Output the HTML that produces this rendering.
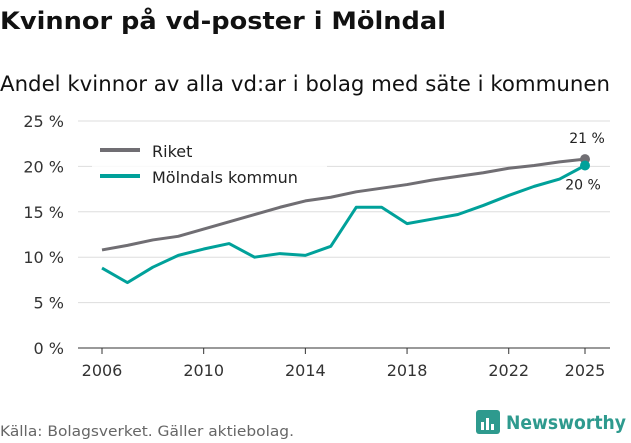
<!DOCTYPE html>
<html><head><meta charset="utf-8"><style>
body{margin:0;background:#fff;font-family:"DejaVu Sans","Liberation Sans",sans-serif;}
svg text{font-family:"DejaVu Sans","Liberation Sans",sans-serif;}
</style></head><body>
<svg width="631" height="439" viewBox="0 0 631 439" xmlns="http://www.w3.org/2000/svg">
<text x="0" y="29" font-size="24" font-weight="bold" fill="#111" textLength="446" lengthAdjust="spacingAndGlyphs">Kvinnor på vd-poster i Mölndal</text>
<text x="0" y="91" font-size="21" fill="#111" textLength="610" lengthAdjust="spacingAndGlyphs">Andel kvinnor av alla vd:ar i bolag med säte i kommunen</text>
<g id="grid"></g><g id="axes"></g><g id="series"></g>
<g>
<rect x="92" y="136" width="235" height="56" fill="#fff" opacity="0.85"/>
<line x1="100" y1="150" x2="140" y2="150" stroke="#706e73" stroke-width="4"/>
<text x="152" y="157" font-size="16" fill="#222">Riket</text>
<line x1="100" y1="176" x2="140" y2="176" stroke="#00a19a" stroke-width="4"/>
<text x="152" y="183" font-size="16" fill="#222">Mölndals kommun</text>
</g>
<text x="0" y="436" font-size="14" fill="#666" textLength="294" lengthAdjust="spacingAndGlyphs">Källa: Bolagsverket. Gäller aktiebolag.</text>
<g>
<rect x="476" y="410" width="24" height="24" rx="3" fill="#2e9a8e"/>
<rect x="481" y="422" width="3" height="8" fill="#fff"/><rect x="486" y="418" width="3" height="12" fill="#fff"/><rect x="491" y="424" width="3" height="6" fill="#fff"/>
<text x="506" y="429" font-size="19" font-weight="bold" fill="#2e9a8e" textLength="120" lengthAdjust="spacingAndGlyphs">Newsworthy</text>
</g>
</svg>
<script>
const years=[2006,2007,2008,2009,2010,2011,2012,2013,2014,2015,2016,2017,2018,2019,2020,2021,2022,2023,2024,2025];
const riket=[10.8,11.3,11.9,12.3,13.1,13.9,14.7,15.5,16.2,16.6,17.2,17.6,18.0,18.5,18.9,19.3,19.8,20.1,20.5,20.8];
const molndal=[8.8,7.2,8.9,10.2,10.9,11.5,10.0,10.4,10.2,11.2,15.5,15.5,13.7,14.2,14.7,15.7,16.8,17.8,18.6,20.1];
const yTicks=[0,5,10,15,20,25];
const xTicks=[2006,2010,2014,2018,2022,2025];
const NS="http://www.w3.org/2000/svg";
const x=v=>102+(v-2006)*(585-102)/19;
const y=v=>348-v*(348-121)/25;
function mk(t,a,p){const e=document.createElementNS(NS,t);for(const k in a)e.setAttribute(k,a[k]);p.appendChild(e);return e;}
const grid=document.getElementById('grid'),axes=document.getElementById('axes'),ser=document.getElementById('series');
yTicks.forEach(t=>{
 const l=mk('line',{x1:78,x2:610,y1:y(t),y2:y(t),stroke:t===0?'#333':'#ddd','stroke-width':1},grid);
 
 
 const tx=mk('text',{x:64,y:y(t)+6,'font-size':16,fill:'#333','text-anchor':'end'},axes);
 tx.textContent=t+' %';
 
 
});
xTicks.forEach(t=>{
 const l=mk('line',{x1:x(t),x2:x(t),y1:348,y2:354,stroke:'#333'},axes);
 
 
 const tx=mk('text',{x:x(t),y:376,'font-size':16,fill:'#333','text-anchor':'middle'},axes);
 tx.textContent=t;
 
 
});
function line(vals,col,name){
 const p=mk('polyline',{points:vals.map((v,i)=>x(years[i])+','+y(v)).join(' '),fill:'none',stroke:col,'stroke-width':3,'stroke-linejoin':'round'},ser);
 
 
 const n=vals.length-1;
 const c=mk('circle',{cx:x(years[n]),cy:y(vals[n]),r:5,fill:col},ser);
 
 
 return n;
}
line(riket,'#706e73','riket');
line(molndal,'#00a19a','molndal');
const n=years.length-1;
const t1=mk('text',{x:x(years[n])+2,y:y(riket[n])-16,'font-size':14,fill:'#222','text-anchor':'middle'},ser);
t1.textContent=Math.round(riket[n])+' %';


const t2=mk('text',{x:x(years[n])-2,y:y(molndal[n])+24,'font-size':14,fill:'#222','text-anchor':'middle'},ser);
t2.textContent=Math.round(molndal[n])+' %';


</script>
</body></html>
